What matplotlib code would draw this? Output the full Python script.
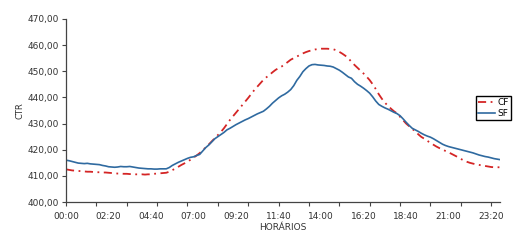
import matplotlib.pyplot as plt
from matplotlib.ticker import FuncFormatter

# 10-minute intervals, 00:00 .. 23:50
labels = ['00:00', '02:20', '04:40', '07:00', '09:20', '11:40',
          '14:00', '16:20', '18:40', '21:00', '23:20']

sf = [416.0, 415.8, 415.5, 415.2, 414.9, 414.8, 414.7, 414.8, 414.6, 414.5,
      414.4, 414.3, 414.0, 413.8, 413.5, 413.4, 413.3, 413.4, 413.6, 413.5,
      413.5, 413.6, 413.4, 413.2, 413.0, 412.9, 412.8, 412.7, 412.7, 412.6,
      412.6, 412.7, 412.7, 412.7, 413.2, 414.0, 414.6, 415.2, 415.7, 416.2,
      416.7, 417.1, 417.3, 417.8, 418.2, 419.5, 420.8, 421.8, 423.0, 424.2,
      425.0, 425.8, 426.6, 427.6, 428.2, 428.9, 429.6, 430.2, 430.8, 431.4,
      431.9, 432.5, 433.1, 433.7, 434.2, 434.7, 435.6, 436.6, 437.8, 438.8,
      439.8, 440.6, 441.2, 442.0, 443.0, 444.5, 446.5, 448.0, 449.8, 451.0,
      452.0, 452.5, 452.6, 452.4, 452.3, 452.2, 452.0, 451.9, 451.6, 451.0,
      450.4, 449.6, 448.7, 447.8, 447.3, 446.0, 445.0, 444.3, 443.5, 442.6,
      441.6, 440.2, 438.6, 437.3, 436.6, 436.0, 435.5, 434.9, 434.3, 433.8,
      433.0, 431.8, 430.5, 429.3, 428.2, 427.6, 427.0, 426.3, 425.7, 425.2,
      424.8, 424.2, 423.5, 422.8, 422.1, 421.6, 421.2, 420.9, 420.6, 420.3,
      420.0, 419.7, 419.4, 419.1, 418.8, 418.4, 418.0, 417.7, 417.4, 417.2,
      416.9, 416.6, 416.4, 416.2]

cf = [412.5, 412.3, 412.1, 412.0, 411.9, 411.8, 411.7, 411.6, 411.6, 411.5,
      411.4, 411.4, 411.3, 411.3, 411.2, 411.1, 411.0, 410.9, 410.9, 410.8,
      410.8, 410.7, 410.7, 410.6, 410.6, 410.6, 410.5, 410.6, 410.6, 410.8,
      410.9, 411.0, 411.1, 411.2, 411.6, 412.2, 412.8, 413.5, 414.2, 414.8,
      415.4, 416.2, 417.0, 417.8, 418.7, 419.8, 420.9, 422.0, 423.2, 424.4,
      425.6, 426.8, 428.2, 429.8, 431.4, 432.8, 434.2, 435.6, 437.0, 438.4,
      439.8, 441.3, 442.8, 444.1, 445.4, 446.7, 447.7, 448.6, 449.6, 450.5,
      451.2, 451.8, 452.6, 453.5, 454.4, 455.0, 455.6, 456.2, 456.8, 457.3,
      457.7, 458.0, 458.3, 458.5, 458.6, 458.6, 458.6, 458.5, 458.4, 458.0,
      457.4, 456.7, 455.9, 454.9, 453.6, 452.4, 451.3, 450.2, 449.1, 447.9,
      446.6, 445.0, 443.2, 441.2, 439.5, 438.0, 436.8, 435.7, 434.7, 433.9,
      432.6, 431.3, 430.0, 429.0, 428.0, 427.0, 425.9, 424.9, 424.2, 423.4,
      422.6, 421.9, 421.2, 420.6, 420.1, 419.5, 419.0, 418.4, 417.8, 417.2,
      416.5, 415.9, 415.4, 415.0, 414.7, 414.4, 414.2, 414.0, 413.8, 413.6,
      413.4, 413.3, 413.3, 413.3]

x = list(range(len(sf)))

fig = plt.figure(figsize=(5.2, 2.42), dpi=100)
ax = fig.add_axes([0.127, 0.165, 0.835, 0.757])

ax.plot(x, cf, color='#d42525', linewidth=1.3, linestyle=(0, (4.5, 2.5, 1, 2.5)), label='CF')
ax.plot(x, sf, color='#2f6aa0', linewidth=1.2, label='SF')

ax.set_xlim(0, 143)
ax.set_ylim(400, 470)
ax.set_yticks(range(400, 471, 10))
ax.yaxis.set_major_formatter(FuncFormatter(lambda v, p: f'{v:.2f}'.replace('.', ',')))

### tick marks every 100 min, labels every 140 min
ax.xaxis.remove_overlapping_locs = False
ax.set_xticks(range(0, 144, 10))
ax.set_xticklabels([])
ax.set_xticks(range(0, 144, 14), minor=True)
ax.set_xticklabels(labels, minor=True)
ax.tick_params(axis='x', which='major', length=3, width=0.8, direction='out', color='#444444')
ax.tick_params(axis='x', which='minor', length=0, pad=7, labelsize=6.5, labelcolor='#333333')
ax.tick_params(axis='y', length=3, width=0.8, direction='out', pad=2, labelsize=6.5,
               labelcolor='#333333', color='#444444')

for s in ['top', 'right']:
    ax.spines[s].set_visible(False)
for s in ['left', 'bottom']:
    ax.spines[s].set_linewidth(0.9)
    ax.spines[s].set_color('#444444')

ax.set_xlabel('HORÁRIOS', fontsize=6.5, color='#333333', labelpad=1.5)
ax.set_ylabel('CTR', fontsize=6, color='#333333', labelpad=2)

fig.legend(loc='upper left', bbox_to_anchor=(476 / 520, 1 - 96 / 242), fontsize=6.5,
           frameon=True, fancybox=False, edgecolor='black', framealpha=1,
           handlelength=1.8, handletextpad=0.3, borderpad=0.25, labelspacing=0.2,
           borderaxespad=0)

plt.savefig('out.png', dpi=100)
